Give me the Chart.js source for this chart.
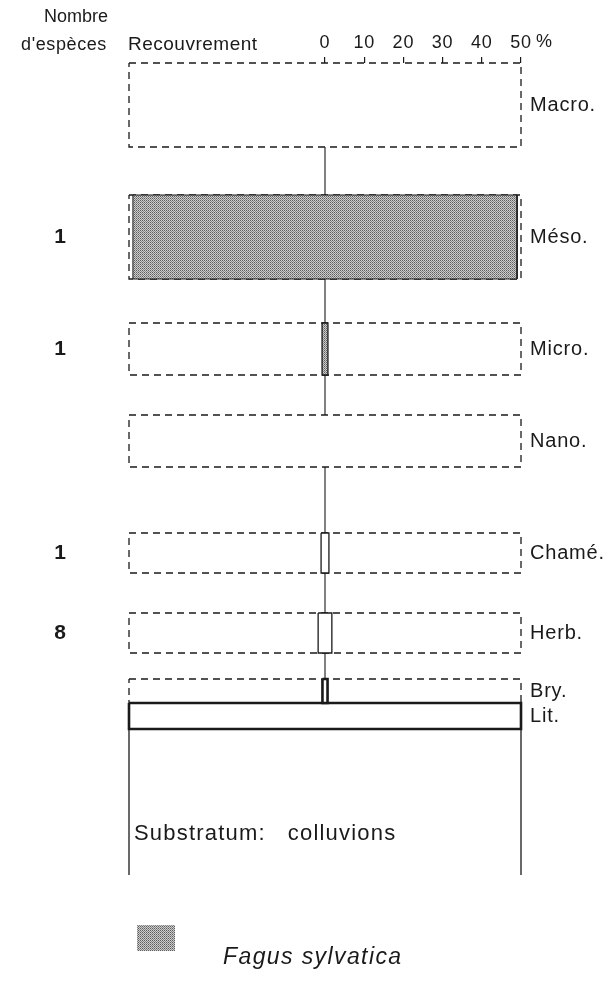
<!DOCTYPE html>
<html>
<head>
<meta charset="utf-8">
<script src="https://cdn.jsdelivr.net/npm/chart.js@4.4.1/dist/chart.umd.min.js"></script>
<style>
  html, body { margin: 0; padding: 0; background: #fff; }
</style>
</head>
<body>
<canvas id="profile" width="613" height="985"></canvas>
<script>
// vegetation strata, top to bottom
const strata = ['Macro.', 'Méso.', 'Micro.', 'Nano.', 'Chamé.', 'Herb.', 'Bry.', 'Lit.'];
// vertical extent of each stratum on the profile scale
const strataTop = [0, 66, 130, 176, 235, 275, 308, 320];
const strataBottom = [42, 108, 156, 202, 255, 295, 320, 333];
// cover (%) of each stratum
const cover = [0, 98, 1.5, 0, 2, 3.5, 1.3, 100];
const speciesCount = [null, 1, 1, null, 1, 8, null, null];
const fagusStrata = ['Méso.', 'Micro.'];
const coverTicks = [0, 10, 20, 30, 40, 50];
const profileDepth = 406;
const substratum = 'Substratum:   colluvions';
const legendLabel = 'Fagus sylvatica';

const INK = '#1a1a1a';
const FONT = '"Liberation Sans", Arial, Helvetica, sans-serif';

const canvas = document.getElementById('profile');
const ctx = canvas.getContext('2d');

function makeStipple() {
  const c = document.createElement('canvas');
  c.width = 2; c.height = 2;
  const g = c.getContext('2d');
  g.fillStyle = '#cdcdcd'; g.fillRect(0, 0, 2, 2);
  g.fillStyle = '#5e5e5e'; g.fillRect(0, 0, 1, 1);
  g.fillStyle = '#868686'; g.fillRect(1, 1, 1, 1);
  return ctx.createPattern(c, 'repeat');
}
const stipple = makeStipple();

function rectPoints(x0, x1, y0, y1) {
  return [{x: x0, y: y0}, {x: x1, y: y0}, {x: x1, y: y1}, {x: x0, y: y1}, {x: x0, y: y0}];
}

function mid(i) {
  return (strataTop[i] + strataBottom[i]) / 2;
}

const datasets = [];
strata.forEach((name, i) => {
  // dashed frame = 100 % of the stratum
  if (name !== 'Lit.') {
    datasets.push({
      label: name,
      data: rectPoints(-50, 50, strataTop[i], strataBottom[i]),
      borderColor: INK, borderWidth: 1.3, borderDash: [7, 5],
      fill: false, order: 3
    });
  }
  // cover bar, centred on 0
  if (cover[i] > 0) {
    const thick = name === 'Lit.' || name === 'Bry.';
    const fagus = fagusStrata.includes(name);
    datasets.push({
      label: fagus ? legendLabel : name,
      data: rectPoints(-cover[i] / 2, cover[i] / 2, strataTop[i], strataBottom[i]),
      borderColor: INK, borderWidth: thick ? 2.6 : (name === 'Méso.' ? 1 : 1.3),
      borderJoinStyle: 'miter',
      backgroundColor: fagus ? stipple : '#fff',
      fill: 'shape', order: 1
    });
  }
  // stem between strata
  if (i < strata.length - 1 && strataTop[i + 1] > strataBottom[i]) {
    datasets.push({
      label: 'axe',
      data: [{x: 0, y: strataBottom[i]}, {x: 0, y: strataTop[i + 1]}],
      borderColor: INK, borderWidth: 1.1, fill: false, order: 2
    });
  }
});

// substratum walls under the litter
const litIndex = strata.indexOf('Lit.');
[-50, 50].forEach(v => {
  datasets.push({
    label: 'substratum',
    data: [{x: v, y: strataBottom[litIndex]}, {x: v, y: profileDepth}],
    borderColor: INK, borderWidth: 1.3, fill: false, order: 2
  });
});
datasets.forEach(d => { d.showLine = true; d.clip = false; d.pointRadius = 0; d.tension = 0; });

function spacedText(c, text, x, y, spacing) {
  c.letterSpacing = spacing + 'px';
  c.fillText(text, x, y);
  c.letterSpacing = '0px';
}

const textPlugin = {
  id: 'profileText',
  beforeDraw(chart) {
    // the scanned lettering is slightly spaced out
    chart.ctx.letterSpacing = '0.8px';
  },
  afterDraw(chart) {
    const { ctx, scales: { x, y } } = chart;
    ctx.save();
    ctx.fillStyle = INK;
    ctx.textBaseline = 'middle';
    ctx.font = `18px ${FONT}`;
    ctx.textAlign = 'center';
    spacedText(ctx, 'Nombre', 76, 17, 0);
    spacedText(ctx, "d'espèces", 64, 45, 0.6);
    ctx.textAlign = 'left';
    ctx.font = `19px ${FONT}`;
    spacedText(ctx, 'Recouvrement', 128, 45, 0.5);
    ctx.font = `18px ${FONT}`;
    spacedText(ctx, '%', x.getPixelForValue(50) + 15, 42, 0);

    ctx.font = `bold 21px ${FONT}`;
    ctx.textAlign = 'center';
    speciesCount.forEach((n, i) => {
      if (n !== null) spacedText(ctx, String(n), 60, y.getPixelForValue(mid(i)), 0);
    });

    ctx.textAlign = 'left';
    ctx.font = `22px ${FONT}`;
    spacedText(ctx, substratum, x.getPixelForValue(-50) + 5, 834, 1.2);

    ctx.fillStyle = stipple;
    ctx.fillRect(137, 925, 38, 26);
    ctx.fillStyle = INK;
    ctx.font = `italic 23px ${FONT}`;
    spacedText(ctx, legendLabel, 223, 958, 1.4);
    ctx.restore();
  }
};

new Chart(ctx, {
  type: 'scatter',
  data: { datasets },
  plugins: [textPlugin],
  options: {
    responsive: false,
    animation: false,
    layout: { padding: { left: 129, right: 0, top: 0, bottom: 110 } },
    plugins: { legend: { display: false }, tooltip: { enabled: false } },
    scales: {
      x: {
        type: 'linear', position: 'top', min: -50, max: 50,
        afterBuildTicks: s => { s.ticks = coverTicks.map(v => ({ value: v })); },
        afterFit: s => { s.height = 63; },
        grid: { drawOnChartArea: false, drawTicks: true, tickLength: 6, color: INK, lineWidth: 1.2 },
        border: { display: false },
        ticks: { color: INK, font: { family: FONT, size: 18 }, padding: 3, autoSkip: false, maxRotation: 0 }
      },
      y: {
        type: 'linear', position: 'right', reverse: true, min: 0, max: profileDepth,
        afterBuildTicks: s => { s.ticks = strata.map((n, i) => ({ value: mid(i) })); },
        afterFit: s => { s.width = 92; },
        grid: { display: false, drawTicks: false },
        border: { display: false },
        ticks: {
          color: INK, font: { family: FONT, size: 20 }, padding: 9, autoSkip: false, crossAlign: 'near',
          callback: (v, i) => strata[i]
        }
      }
    }
  }
});
</script>
</body>
</html>
